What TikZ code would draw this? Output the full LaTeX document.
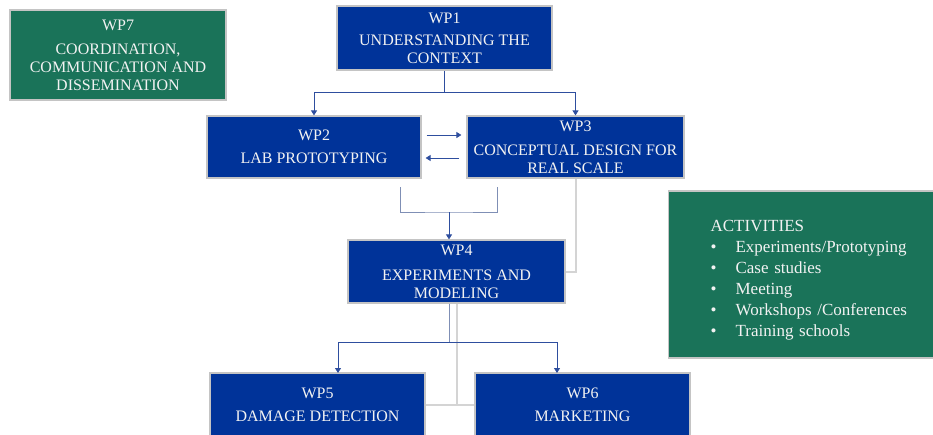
\documentclass[tikz,border=0pt]{standalone}
\usepackage{fontspec}
\setmainfont{Liberation Serif}
\usetikzlibrary{arrows.meta}
\definecolor{wpblue}{HTML}{003399}
\definecolor{wpgreen}{HTML}{1A7359}
\definecolor{edgegray}{HTML}{C4C4C4}
\definecolor{linkblue}{HTML}{2E4E9E}
\definecolor{slate}{HTML}{7F8FB5}
\definecolor{lightline}{HTML}{D4D4D4}
\definecolor{txt}{HTML}{F2F2F2}
\begin{document}
\begin{tikzpicture}[x=1pt,y=-1pt,
  wpbox/.style={draw=edgegray, line width=1.2pt, fill=wpblue, text=txt, align=center,
    font=\fontsize{16}{18}\selectfont, inner sep=0pt},
  greenbox/.style={draw=edgegray, line width=1.2pt, fill=wpgreen, text=txt,
    font=\fontsize{16}{18}\selectfont, inner sep=0pt},
  conn/.style={draw=linkblue, line width=0.9pt, -{Triangle[width=6pt,length=5pt]}},
  plainconn/.style={draw=linkblue, line width=0.9pt},
  slateconn/.style={draw=slate, line width=0.9pt},
  ghost/.style={draw=lightline, line width=2pt}
]
\useasboundingbox (0,0) rectangle (933,434);

% boxes
\node[greenbox, align=center, minimum width=216pt, minimum height=90pt] (wp7) at (118,55)
  {WP7\\[6pt]COORDINATION,\\COMMUNICATION AND\\DISSEMINATION};
\node[wpbox, minimum width=215pt, minimum height=64pt] (wp1) at (444.5,38)
  {WP1\\[4pt]UNDERSTANDING THE\\CONTEXT};
\node[wpbox, minimum width=214pt, minimum height=62pt] (wp2) at (314,147)
  {WP2\\[5pt]LAB PROTOTYPING};
\node[wpbox, minimum width=217pt, minimum height=62pt] (wp3) at (575.5,147)
  {WP3\\[6pt]CONCEPTUAL DESIGN FOR\\REAL SCALE};
\node[wpbox, minimum width=217pt, minimum height=63pt] (wp4) at (456.5,271.5)
  {WP4\\[7pt]EXPERIMENTS AND\\MODELING};
\node[wpbox, minimum width=215pt, minimum height=63pt] (wp5) at (317.5,404.5)
  {WP5\\[5pt]DAMAGE DETECTION};
\node[wpbox, minimum width=215pt, minimum height=63pt] (wp6) at (582.5,404.5)
  {WP6\\[5pt]MARKETING};
\node[greenbox, align=left, text width=230pt, inner xsep=42pt, minimum height=167pt,
  font=\fontsize{17}{21}\selectfont, anchor=west] (act) at (668,274.5)
  {\mbox{}\\[1pt]ACTIVITIES\\
   \makebox[25pt][l]{•}Experiments/Prototyping\\
   \makebox[25pt][l]{•}Case studies\\
   \makebox[25pt][l]{•}Meeting\\
   \makebox[25pt][l]{•}Workshops /Conferences\\
   \makebox[25pt][l]{•}Training schools};

% light grey connectors
\draw[ghost] (wp3.south) |- (wp4.east);
\draw[ghost] (wp4.south) -- (wp4.south |- wp5.east);
\draw[ghost] (wp5.east) -- (wp6.west);

% WP1 -> WP2, WP3
\coordinate (j1) at (444.5,92);
\draw[plainconn] (wp1.south) -- (j1);
\draw[conn] (j1) -| (wp2.north);
\draw[conn] (j1) -| (wp3.north);

% WP2 <-> WP3
\draw[conn, shorten <=5pt, shorten >=5pt] ([yshift=12pt]wp2.east) -- ([yshift=12pt]wp3.west);
\draw[conn, shorten <=7pt, shorten >=4pt] ([yshift=-11pt]wp3.west) -- ([yshift=-11pt]wp2.east);

% WP2/WP3 -> WP4
\coordinate (b1) at (400,187);
\coordinate (b2) at (497,187);
\coordinate (bm) at (449,212);
\draw[slateconn] (b1) |- (bm) -| (b2);
\draw[conn] (bm) -- (bm |- wp4.north);

% WP4 -> WP5, WP6
\coordinate (j4) at (449,342);
\coordinate (a5) at (338,373);
\coordinate (a6) at (557,373);
\draw[slateconn] (j4 |- wp4.south) -- (j4);
\draw[conn] (j4) -| (a5);
\draw[conn] (j4) -| (a6);
\end{tikzpicture}
\end{document}
